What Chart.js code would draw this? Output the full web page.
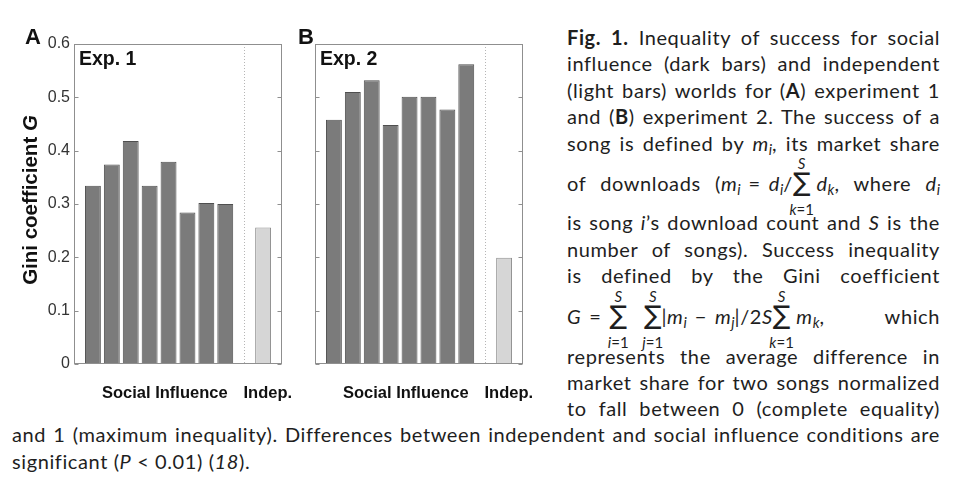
<!DOCTYPE html>
<html>
<head>
<meta charset="utf-8">
<script src="https://cdn.jsdelivr.net/npm/chart.js@4.4.1/dist/chart.umd.min.js"></script>
<style>
html,body{margin:0;padding:0;background:#fff;}
body{width:974px;height:488px;position:relative;overflow:hidden;}
.panel{position:absolute;}
.panel canvas{display:block;}
.lbl{position:absolute;font-family:"Liberation Sans",Arial,sans-serif;font-weight:bold;color:#111;white-space:nowrap;line-height:1;}
.cap{position:absolute;font-family:Lato,"Noto Sans",sans-serif;font-size:20px;letter-spacing:0.6px;color:#1e1e1e;white-space:nowrap;line-height:26px;height:26px;text-align:justify;text-align-last:justify;}
.cap.left{text-align:left;text-align-last:left;}
.cap b{font-weight:bold;}
.sb{font-size:.72em;vertical-align:-0.28em;font-style:italic;line-height:0;letter-spacing:0;}
.op{margin:0 .4em;}
.th{display:inline-block;width:.3em;}
.th2{display:inline-block;width:17px;}
.sum{position:relative;display:inline-block;font-family:"DejaVu Sans",sans-serif;font-size:1.3em;line-height:20px;letter-spacing:0;}
.sum .up,.sum .dn{position:absolute;left:50%;transform:translateX(-50%);font-family:Lato,"Noto Sans",sans-serif;font-size:15px;line-height:1;white-space:nowrap;}
.sum .up{top:-16px;font-style:italic;}
.sum .dn{top:30px;font-style:normal;}
.sum .dn i{font-style:italic;}
</style>
</head>
<body>

<div class="panel" id="pa" style="left:0;top:30px;width:300px;height:380px;"><canvas id="chartA"></canvas></div>
<div class="panel" id="pb" style="left:290px;top:30px;width:260px;height:380px;"><canvas id="chartB"></canvas></div>

<div class="lbl" style="left:25px;top:26px;font-size:22px;">A</div>
<div class="lbl" style="left:298px;top:26px;font-size:22px;">B</div>
<div class="lbl" style="left:79px;top:49px;font-size:19.5px;">Exp. 1</div>
<div class="lbl" style="left:320px;top:49px;font-size:19.5px;">Exp. 2</div>

<div class="cap" style="left:567px;top:24px;width:373px;"><b>Fig. 1.</b> Inequality of success for social</div>
<div class="cap" style="left:567px;top:50px;width:373px;">influence (dark bars) and independent</div>
<div class="cap" style="left:567px;top:77px;width:373px;">(light bars) worlds for (<b>A</b>) experiment 1</div>
<div class="cap" style="left:567px;top:103px;width:373px;">and (<b>B</b>) experiment 2. The success of a</div>
<div class="cap" style="left:567px;top:130px;width:373px;">song is defined by <i>m</i><span class="sb">i</span>, its market share</div>
<div class="cap" style="left:567px;top:170px;width:373px;">of downloads (<i>m</i><span class="sb">i</span><span class="op">=</span><i>d</i><span class="sb">i</span>/<span class="sum">∑<span class="up">S</span><span class="dn"><i>k</i>=1</span></span><span class="th"></span><i>d</i><span class="sb">k</span>, where <i>d</i><span class="sb">i</span></div>
<div class="cap" style="left:567px;top:209px;width:373px;">is song <i>i</i>’s download count and <i>S</i> is the</div>
<div class="cap" style="left:567px;top:236px;width:373px;">number of songs). Success inequality</div>
<div class="cap" style="left:567px;top:262px;width:373px;">is defined by the Gini coefficient</div>
<div class="cap" style="left:567px;top:303px;width:373px;"><i>G</i><span class="op">=</span><span class="sum">∑<span class="up">S</span><span class="dn"><i>i</i>=1</span></span><span class="th2"></span><span class="sum">∑<span class="up">S</span><span class="dn"><i>j</i>=1</span></span>|<i>m</i><span class="sb">i</span><span class="op">−</span><i>m</i><span class="sb">j</span>|/2<i>S</i><span class="sum">∑<span class="up">S</span><span class="dn"><i>k</i>=1</span></span><span class="th"></span><i>m</i><span class="sb">k</span>, which</div>
<div class="cap" style="left:567px;top:343px;width:373px;">represents the average difference in</div>
<div class="cap" style="left:567px;top:369px;width:373px;">market share for two songs normalized</div>
<div class="cap" style="left:567px;top:395px;width:373px;">to fall between 0 (complete equality)</div>
<div class="cap" style="left:12px;top:421px;width:928px;">and 1 (maximum inequality). Differences between independent and social influence conditions are</div>
<div class="cap left" style="left:12px;top:448px;width:928px;">significant (<i>P</i> &lt; 0.01) (<i>18</i>).</div>

<script>
// ---- data ----
const socialA = [0.334, 0.374, 0.418, 0.334, 0.379, 0.284, 0.302, 0.300];
const indepA  = [0.256];
const socialB = [0.458, 0.510, 0.532, 0.448, 0.501, 0.501, 0.477, 0.562];
const indepB  = [0.199];
const groupLabels = ['Social Influence', 'Indep.'];
const yTicks = [0, 0.1, 0.2, 0.3, 0.4, 0.5, 0.6];
const yTitle = ['Gini coefficient ', 'G'];

// ---- styling / layout ----
const DARK = '#7b7b7b', DARK_BORDER = '#4f4f4f';
const LIGHT = '#d6d6d6', LIGHT_BORDER = '#8f8f8f';
const FRAME = '#8f8f8f';
const FONT = '"Liberation Sans", Arial, sans-serif';

function buildPoints(social, indep) {
  const pts = social.map((v, i) => ({ x: i + 1, y: v }))
    .concat(indep.map((v, i) => ({ x: social.length + 2 + i, y: v })));
  const bg = social.map(() => DARK).concat(indep.map(() => LIGHT));
  const bd = social.map(() => DARK_BORDER).concat(indep.map(() => LIGHT_BORDER));
  return {
    pts, bg, bd,
    sep: social.length + 1,
    max: social.length + indep.length + 2,
    labelPos: [(social.length + 1) / 2 + 0.3, social.length + 2.25]
  };
}

const framePlugin = {
  id: 'frame',
  beforeDatasetsDraw(chart, args, opts) {
    const { ctx, chartArea: { top, bottom }, scales: { x } } = chart;
    const sx = Math.round(x.getPixelForValue(opts.sep)) + 0.5;
    ctx.save();
    ctx.strokeStyle = '#b5b5b5';
    ctx.lineWidth = 1;
    ctx.setLineDash([1, 2]);
    ctx.beginPath(); ctx.moveTo(sx, top); ctx.lineTo(sx, bottom); ctx.stroke();
    ctx.restore();
  },
  afterDatasetsDraw(chart, args, opts) {
    const { ctx, chartArea: { left, right, top, bottom }, scales: { x, y } } = chart;
    ctx.save();
    ctx.strokeStyle = FRAME;
    ctx.lineWidth = 1;
    const l = Math.round(left) + 0.5, r = Math.round(right) - 0.5;
    const t = Math.round(top) + 0.5, b = Math.round(bottom) - 0.5;
    ctx.strokeRect(l, t, r - l, b - t);
    y.ticks.forEach(tk => {
      const py = Math.round(y.getPixelForValue(tk.value)) + 0.5;
      ctx.beginPath();
      ctx.moveTo(l, py); ctx.lineTo(l + 4, py);
      ctx.moveTo(r, py); ctx.lineTo(r - 4, py);
      ctx.stroke();
    });
    // group labels under the x axis
    ctx.fillStyle = '#111';
    ctx.font = 'bold 16.5px ' + FONT;
    ctx.textAlign = 'center';
    ctx.textBaseline = 'alphabetic';
    opts.labelPos.forEach((v, i) => {
      ctx.fillText(groupLabels[i], x.getPixelForValue(v), bottom + 34);
    });
    ctx.restore();
  }
};

const yTitlePlugin = {
  id: 'ytitle',
  afterDraw(chart, args, opts) {
    if (!opts.show) return;
    const { ctx, chartArea: { top, bottom } } = chart;
    const fs = 20.5;
    ctx.save();
    ctx.fillStyle = '#111';
    ctx.font = 'bold ' + fs + 'px ' + FONT;
    const w1 = ctx.measureText(yTitle[0]).width;
    ctx.font = 'italic bold ' + fs + 'px ' + FONT;
    const w2 = ctx.measureText(yTitle[1]).width;
    const total = w1 + w2;
    ctx.translate(31, (top + bottom) / 2 - 4);
    ctx.rotate(-Math.PI / 2);
    ctx.textBaseline = 'middle';
    ctx.textAlign = 'left';
    ctx.font = 'bold ' + fs + 'px ' + FONT;
    ctx.fillText(yTitle[0], -total / 2, 0);
    ctx.font = 'italic bold ' + fs + 'px ' + FONT;
    ctx.fillText(yTitle[1], -total / 2 + w1, 0);
    ctx.restore();
  }
};

function makeChart(id, social, indep, showY, yAxisWidth, rightPad) {
  const d = buildPoints(social, indep);
  return new Chart(document.getElementById(id), {
    type: 'bar',
    data: {
      datasets: [{
        data: d.pts,
        backgroundColor: d.bg,
        borderColor: d.bd,
        borderWidth: 1,
        borderSkipped: 'start',
        categoryPercentage: 1,
        barPercentage: 0.84
      }]
    },
    options: {
      responsive: true,
      maintainAspectRatio: false,
      animation: false,
      layout: { padding: { left: 0, top: 14, right: rightPad, bottom: 0 } },
      plugins: {
        legend: { display: false },
        tooltip: { enabled: false },
        frame: { sep: d.sep, labelPos: d.labelPos },
        ytitle: { show: showY }
      },
      scales: {
        x: {
          type: 'linear', min: 0, max: d.max, offset: false,
          grid: { display: false, drawTicks: false },
          border: { display: false },
          afterBuildTicks: s => { s.ticks = d.labelPos.map(v => ({ value: v })); },
          afterFit: s => { s.height = 46; },
          ticks: { display: false }
        },
        y: {
          min: 0, max: 0.6,
          grid: { display: false, drawTicks: false },
          border: { display: false },
          afterBuildTicks: s => { s.ticks = yTicks.map(v => ({ value: v })); },
          afterFit: s => { s.width = yAxisWidth; },
          ticks: {
            display: showY, padding: 4, color: '#333',
            font: { family: FONT, size: 16 },
            callback: v => (v === 0 ? '0' : v.toFixed(1))
          }
        }
      }
    },
    plugins: [framePlugin, yTitlePlugin]
  });
}

makeChart('chartA', socialA, indepA, true, 74, 18);
makeChart('chartB', socialB, indepB, false, 25, 27);

// fit caption lines that are too long for their box
document.querySelectorAll('.cap').forEach(el => {
  const target = parseFloat(el.style.width);
  el.style.width = 'max-content';
  const w = el.getBoundingClientRect().width;
  el.style.width = target + 'px';
  if (w > target) {
    const fs = parseFloat(getComputedStyle(el).fontSize);
    el.style.fontSize = (fs * target / w * 0.995) + 'px';
  }
});
</script>
</body>
</html>
